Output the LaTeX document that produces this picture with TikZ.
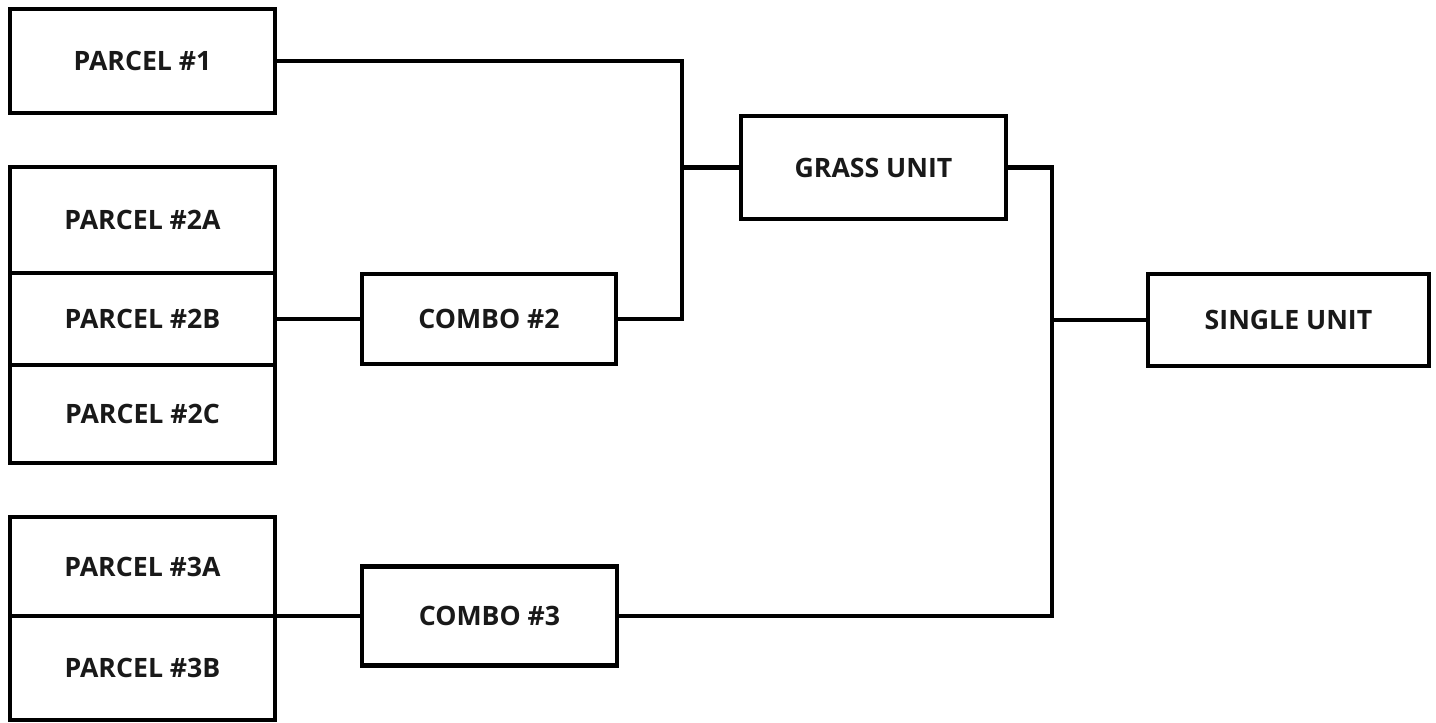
\documentclass[tikz,border=0pt]{standalone}
\usepackage{fontspec}
\setmainfont{Open Sans}
\begin{document}
\begin{tikzpicture}[x=0.75pt,y=-0.75pt,
  box/.style={draw=black,line width=3.4pt,fill=white,outer sep=0pt,inner sep=0pt,
    font=\fontsize{20}{24}\selectfont\bfseries,text=black!90},
  wire/.style={draw=black,line width=3.4pt}]
\useasboundingbox (0,0) rectangle (1436,722);
\node[box,minimum width=265*0.75pt,minimum height=104*0.75pt] (p1) at (142.5,61) {PARCEL \#1};
\node[box,minimum width=265*0.75pt,minimum height=106*0.75pt] (p2a) at (142.5,220) {PARCEL \#2A};
\node[box,minimum width=265*0.75pt,minimum height=92*0.75pt] (p2b) at (142.5,319) {PARCEL \#2B};
\node[box,minimum width=265*0.75pt,minimum height=98*0.75pt] (p2c) at (142.5,414) {PARCEL \#2C};
\node[box,minimum width=265*0.75pt,minimum height=99*0.75pt] (p3a) at (142.5,566.5) {PARCEL \#3A};
\node[box,minimum width=265*0.75pt,minimum height=104*0.75pt] (p3b) at (142.5,668) {PARCEL \#3B};
\node[box,minimum width=254*0.75pt,minimum height=90*0.75pt] (c2) at (489,319) {COMBO \#2};
\node[box,minimum width=255*0.75pt,minimum height=99*0.75pt] (c3) at (489.5,616) {COMBO \#3};
\node[box,minimum width=265*0.75pt,minimum height=103*0.75pt] (g) at (873.5,167.5) {GRASS UNIT};
\node[box,minimum width=281*0.75pt,minimum height=92*0.75pt] (s) at (1288.5,320) {SINGLE UNIT};
\coordinate (j1) at (682,167.5);
\coordinate (j2) at (1052,320);
\draw[wire] (p1.east) -| (j1) |- (c2.east);
\draw[wire] (j1) -- (g.west);
\draw[wire] (p2b.east) -- (c2.west);
\draw[wire] (p3a.south east) -- (c3.west);
\draw[wire] (g.east) -| (j2) |- (c3.east);
\draw[wire] (j2) -- (s.west);
\end{tikzpicture}
\end{document}
